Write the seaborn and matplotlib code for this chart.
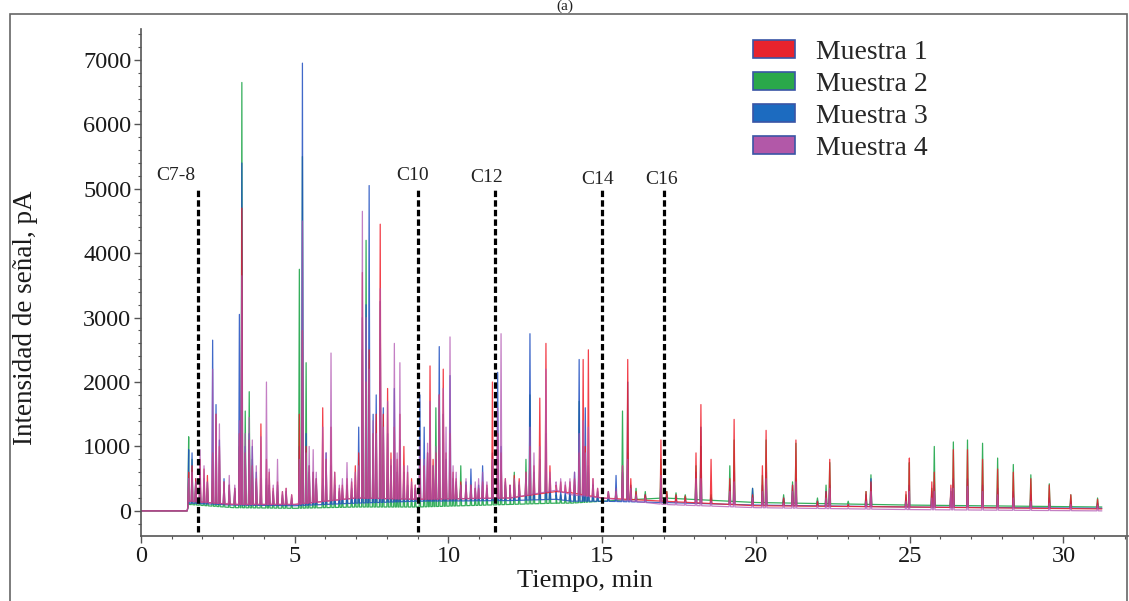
import numpy as np
import pandas as pd
import matplotlib
matplotlib.use("Agg")
import matplotlib.pyplot as plt
from matplotlib.patches import Patch, Rectangle
from matplotlib.ticker import MultipleLocator
import seaborn as sns

# ---------------- data ----------------
series_names = ["Muestra 1", "Muestra 2", "Muestra 3", "Muestra 4"]

peak_times_a = [1.55, 1.66, 1.78, 1.92, 2.05, 2.16, 2.33, 2.44, 2.55, 2.70,
                2.87, 3.05, 3.20, 3.28, 3.39, 3.52, 3.62, 3.75, 3.90, 4.08,
                4.17, 4.30, 4.44, 4.60, 4.72, 4.90]
peak_times_b = [5.15, 5.25, 5.37, 5.47, 5.60, 5.70, 5.91, 6.02, 6.18, 6.30,
                6.45, 6.55, 6.70, 6.85, 6.97, 7.08, 7.20, 7.32, 7.42, 7.55,
                7.65, 7.78, 7.88, 8.02, 8.13, 8.24, 8.33, 8.42, 8.55, 8.67,
                8.80, 8.92]
peak_times_c = [9.07, 9.21, 9.32, 9.40, 9.50, 9.59, 9.70, 9.83, 9.92, 10.05,
                10.15, 10.25, 10.40, 10.57, 10.73, 10.87, 10.98, 11.11, 11.25, 11.43,
                11.60, 11.71, 11.85, 12.00, 12.14, 12.30, 12.52, 12.65, 12.78, 12.97,
                13.17, 13.30, 13.50, 13.65, 13.80, 13.95, 14.10, 14.25, 14.38, 14.45,
                14.55, 14.70, 14.85, 15.20, 15.45, 15.66, 15.83, 15.93, 16.10, 16.40,
                16.91, 17.10, 17.40, 17.70]
peak_times_d = [18.05, 18.21, 18.54, 19.15, 19.29, 19.89, 20.21, 20.33, 20.90, 21.19,
                21.30, 22.00, 22.28, 22.40, 23.00, 23.58, 23.74, 24.88, 24.99, 25.72,
                25.80, 26.34, 26.42, 26.88, 27.37, 27.86, 28.37, 28.94, 29.54, 30.24,
                31.11]

# peak apex levels (pA) for each sample, aligned with the time blocks above
m1_a = [600, 700, 500, 800, 650, 550, 900, 1500, 1000, 450,
        400, 350, 1200, 4700, 900, 1100, 700, 500, 1350, 800,
        600, 350, 450, 300, 350, 250]
m2_a = [1150, 800, 450, 500, 400, 350, 500, 450, 400, 350,
        300, 300, 1000, 6650, 1550, 1850, 800, 450, 400, 400,
        350, 250, 300, 200, 250, 150]
m3_a = [950, 900, 500, 600, 500, 450, 2650, 1650, 1100, 500,
        400, 350, 3050, 5400, 1000, 1200, 1000, 600, 500, 500,
        400, 300, 400, 250, 300, 200]
m4_a = [500, 600, 450, 950, 700, 450, 2200, 1500, 1350, 450,
        550, 400, 1400, 3650, 1200, 1450, 1100, 700, 1150, 2000,
        650, 400, 800, 300, 350, 250]

m1_b = [1500, 2800, 1000, 700, 600, 500, 1600, 800, 1300, 600,
        350, 400, 500, 450, 700, 900, 3700, 2000, 2500, 1200,
        1500, 4450, 1500, 1900, 900, 1300, 800, 1500, 1000, 600,
        500, 400]
m2_b = [3750, 5500, 2300, 600, 500, 400, 400, 400, 500, 300,
        200, 250, 300, 250, 300, 500, 2500, 4200, 1800, 800,
        600, 2000, 700, 600, 400, 500, 400, 500, 400, 300,
        250, 250]
m3_b = [1000, 6950, 1200, 700, 600, 500, 500, 900, 700, 400,
        300, 350, 400, 350, 400, 1300, 3000, 3200, 5050, 1500,
        1800, 3250, 1600, 1200, 700, 1900, 600, 1100, 600, 400,
        350, 350]
m4_b = [800, 4500, 900, 1000, 950, 600, 1300, 900, 2450, 600,
        400, 500, 750, 500, 600, 700, 4650, 3000, 2200, 1400,
        1200, 3450, 1300, 1700, 800, 2600, 900, 2300, 700, 700,
        450, 400]

m1_c = [800, 700, 900, 2250, 800, 900, 1800, 2200, 900, 1200,
        600, 500, 450, 400, 400, 350, 350, 450, 400, 2000,
        1200, 900, 500, 400, 550, 500, 600, 1000, 700, 1750,
        2600, 700, 400, 450, 400, 450, 500, 900, 2350, 1000,
        2500, 500, 350, 300, 300, 700, 2350, 500, 300, 250,
        1100, 300, 250, 230]
m2_c = [400, 400, 500, 600, 500, 1600, 700, 800, 500, 600,
        400, 400, 700, 350, 300, 250, 250, 300, 300, 700,
        800, 500, 400, 350, 600, 400, 800, 1800, 500, 800,
        900, 400, 250, 250, 250, 300, 400, 1700, 900, 700,
        600, 400, 250, 250, 350, 1550, 900, 350, 350, 300,
        800, 300, 280, 250]
m3_c = [1800, 1300, 900, 800, 700, 800, 2550, 1500, 800, 2100,
        500, 450, 400, 450, 650, 350, 400, 700, 350, 900,
        2150, 1000, 450, 350, 400, 400, 500, 2750, 600, 600,
        1200, 500, 300, 300, 300, 350, 600, 2350, 1000, 1600,
        700, 400, 300, 300, 550, 600, 2000, 400, 250, 250,
        500, 250, 230, 200]
m4_c = [1100, 800, 1050, 1700, 700, 1000, 1800, 1900, 1300, 2700,
        700, 600, 400, 500, 400, 450, 500, 600, 450, 800,
        1600, 2750, 500, 400, 500, 450, 600, 1300, 900, 1000,
        2200, 600, 450, 500, 450, 500, 600, 1200, 1400, 900,
        1300, 500, 350, 300, 350, 700, 800, 350, 250, 200,
        550, 200, 150, 150]

m1_d = [900, 1650, 800, 500, 1420, 250, 700, 1250, 200, 400,
        1100, 150, 300, 800, 100, 300, 450, 300, 820, 450,
        600, 400, 950, 950, 800, 650, 600, 500, 400, 250,
        180]
m2_d = [700, 1000, 250, 700, 1100, 350, 550, 1100, 250, 450,
        1050, 200, 400, 750, 150, 300, 560, 250, 750, 350,
        1000, 300, 1070, 1100, 1050, 820, 720, 560, 420, 250,
        200]
m3_d = [600, 1300, 200, 400, 600, 350, 400, 600, 200, 400,
        500, 150, 300, 400, 100, 250, 500, 200, 400, 300,
        400, 300, 500, 500, 400, 350, 300, 250, 200, 150,
        120]
m4_d = [500, 500, 150, 300, 450, 200, 300, 500, 120, 300,
        450, 80, 200, 350, 50, 150, 300, 150, 300, 200,
        300, 350, 350, 380, 300, 250, 200, 150, 120, 100,
        80]

# baseline levels (pA) at a few retention times
base_times = [0.0, 1.50, 1.56, 3.0, 5.0, 7.0, 9.0, 12.0, 13.5, 14.0, 15.0, 17.0, 20.0, 25.0, 31.25]
base_m1 = [0, 0, 150, 100, 100, 200, 180, 200, 300, 280, 200, 150, 80, 60, 30]
base_m2 = [0, 0, 100, 50, 40, 60, 60, 100, 120, 120, 150, 200, 130, 90, 60]
base_m3 = [0, 0, 120, 90, 80, 120, 150, 160, 180, 150, 150, 130, 90, 60, 40]
base_m4 = [0, 0, 150, 100, 100, 200, 180, 200, 320, 250, 200, 100, 50, 20, 0]

# carbon-number markers
marker_times = [1.85, 9.0, 11.5, 15.0, 17.0]
marker_labels = ["C7-8", "C10", "C12", "C14", "C16"]
marker_label_x = [1.13, 8.82, 11.23, 14.85, 16.92]
marker_label_y = [5210, 5210, 5180, 5140, 5140]

x_ticks = [0, 5, 10, 15, 20, 25, 30]
y_ticks = [0, 1000, 2000, 3000, 4000, 5000, 6000, 7000]

# ---------------- assemble ----------------
peak_times = peak_times_a + peak_times_b + peak_times_c + peak_times_d
heights = {
    "Muestra 1": m1_a + m1_b + m1_c + m1_d,
    "Muestra 2": m2_a + m2_b + m2_c + m2_d,
    "Muestra 3": m3_a + m3_b + m3_c + m3_d,
    "Muestra 4": m4_a + m4_b + m4_c + m4_d,
}
bases = {"Muestra 1": base_m1, "Muestra 2": base_m2,
         "Muestra 3": base_m3, "Muestra 4": base_m4}
for k in heights:
    assert len(heights[k]) == len(peak_times), k

half_w = 0.025
rows = []
for name in series_names:
    bt = np.array(base_times)
    bv = np.array(bases[name])
    for t, v in zip(bt, bv):
        rows.append((name, t, v))
    for t, h in zip(peak_times, heights[name]):
        for tt, vv in ((t - half_w, None), (t, h), (t + half_w, None)):
            if vv is None:
                vv = float(np.interp(tt, bt, bv))
            rows.append((name, tt, vv))
df = pd.DataFrame(rows, columns=["serie", "t", "v"])

line_colors = {"Muestra 1": "#f01e2a", "Muestra 2": "#1fa64a",
               "Muestra 3": "#1f4fc0", "Muestra 4": "#b054b0"}
line_alpha = {"Muestra 1": 0.85, "Muestra 2": 0.9, "Muestra 3": 0.85, "Muestra 4": 0.75}
patch_colors = {"Muestra 1": "#e8232d", "Muestra 2": "#2aa84a",
                "Muestra 3": "#1c6bc0", "Muestra 4": "#b258a8"}
draw_order = ["Muestra 2", "Muestra 3", "Muestra 1", "Muestra 4"]

# ---------------- plot ----------------
sns.set_style("ticks")
plt.rcParams["font.family"] = ["Liberation Serif", "DejaVu Serif"]

W, H = 1129, 601
fig = plt.figure(figsize=(W / 100, H / 100), dpi=100)
ax = fig.add_axes([141 / W, 65 / H, 987 / W, 507 / H])

for name in draw_order:
    sub = df[df["serie"] == name]
    sns.lineplot(data=sub, x="t", y="v", color=line_colors[name], lw=0.9,
                 alpha=line_alpha[name], estimator=None, sort=True,
                 legend=False, ax=ax)

ax.vlines(marker_times, ymin=-330, ymax=5000, colors="black",
          linestyles=(0, (2, 1)), lw=2.3, zorder=10)
for x, y, lab in zip(marker_label_x, marker_label_y, marker_labels):
    ax.text(x, y, lab, ha="center", va="center", fontsize=14, color="#222222")

ax.set_xlim(0, 32.1)
ax.set_ylim(-390, 7480)
ax.set_xticks(x_ticks)
ax.set_yticks(y_ticks)
ax.xaxis.set_minor_locator(MultipleLocator(1))
ax.yaxis.set_minor_locator(MultipleLocator(200))
ax.tick_params(axis="both", which="major", direction="out", length=5, width=1,
               color="#555555", labelsize=17.5, labelcolor="#1a1a1a", pad=2)
ax.tick_params(axis="both", which="minor", direction="out", length=2.5,
               width=0.8, color="#555555")
for side in ("top", "right"):
    ax.spines[side].set_visible(False)
for side in ("left", "bottom"):
    ax.spines[side].set_color("#555555")
    ax.spines[side].set_linewidth(1.2)

ax.set_xlabel("Tiempo, min", fontsize=19, color="#1a1a1a")
ax.set_ylabel("Intensidad de señal, pA", fontsize=19.5, color="#1a1a1a")
ax.xaxis.set_label_coords(0.45, -0.068)
ax.yaxis.set_label_coords(-0.104, 0.43)

handles = [Patch(facecolor=patch_colors[n], edgecolor="#3a55a5", lw=1.2, label=n)
           for n in series_names]
fig.legend(handles=handles, loc="upper left", bbox_to_anchor=(753 / W, 1 - 40 / H),
           frameon=False, fontsize=20, handlelength=1.5, handleheight=0.63,
           handletextpad=0.78, labelspacing=0.25, borderpad=0, borderaxespad=0)

fig.patches.append(Rectangle((10 / W, -0.02), (1127 - 10) / W, (H - 14) / H + 0.02,
                             transform=fig.transFigure, fill=False,
                             ec="#666666", lw=1.2))
fig.text(0.5, 1.0, "(a)", ha="center", va="top", fontsize=11, color="#222222")

fig.savefig("out.png", dpi=100)
